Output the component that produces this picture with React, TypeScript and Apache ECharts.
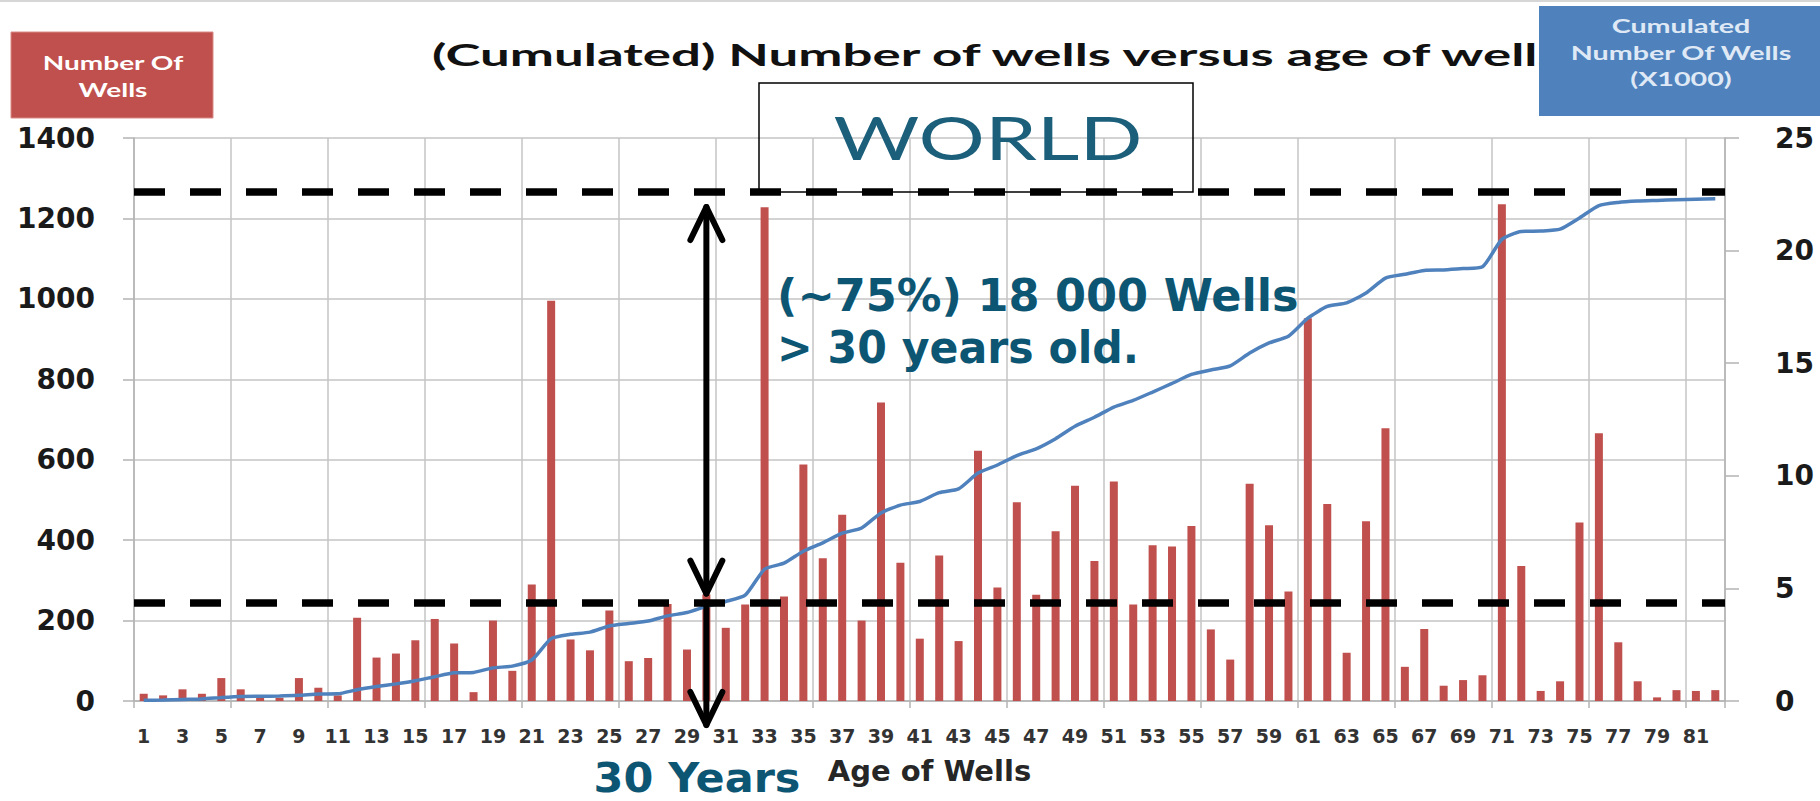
import React, { useEffect, useRef } from "react";
import * as echarts from "echarts";

// ---------- data ----------
const ageCategories = [
  "1","2","3","4","5","6","7","8","9","10",
  "11","12","13","14","15","16","17","18","19","20",
  "21","22","23","24","25","26","27","28","29","30",
  "31","32","33","34","35","36","37","38","39","40",
  "41","42","43","44","45","46","47","48","49","50",
  "51","52","53","54","55","56","57","58","59","60",
  "61","62","63","64","65","66","67","68","69","70",
  "71","72","73","74","75","76","77","78","79","80",
  "81","82",
];

// Number of wells per age (left axis)
const wellCounts = [
  18, 14, 29, 18, 57, 29, 8, 8, 57, 33,
  14, 207, 108, 118, 151, 204, 143, 22, 200, 75,
  290, 995, 153, 126, 225, 99, 107, 241, 128, 265,
  182, 240, 1228, 260, 588, 355, 463, 200, 742, 344,
  155, 362, 149, 622, 282, 494, 264, 422, 535, 348,
  546, 240, 387, 384, 435, 178, 103, 540, 437, 272,
  952, 490, 120, 447, 678, 85, 179, 38, 52, 64,
  1235, 336, 25, 49, 444, 666, 146, 49, 9, 27,
  25, 27,
];

// Cumulated number of wells (x1000, right axis)
const cumulatedWells = [
  0.03, 0.04, 0.07, 0.09, 0.15, 0.2, 0.21, 0.22, 0.25, 0.31,
  0.32, 0.5, 0.64, 0.76, 0.9, 1.08, 1.25, 1.27, 1.47, 1.55,
  1.82, 2.77, 2.96, 3.06, 3.33, 3.44, 3.55, 3.78, 3.93, 4.2,
  4.42, 4.7, 5.85, 6.12, 6.65, 7.02, 7.45, 7.68, 8.35, 8.7,
  8.86, 9.25, 9.42, 10.12, 10.48, 10.9, 11.2, 11.65, 12.2, 12.6,
  13.05, 13.35, 13.72, 14.1, 14.5, 14.7, 14.88, 15.45, 15.9, 16.2,
  17.0, 17.52, 17.68, 18.12, 18.78, 18.95, 19.12, 19.14, 19.2, 19.28,
  20.5, 20.85, 20.87, 20.95, 21.45, 22.0, 22.14, 22.2, 22.23, 22.26,
  22.28, 22.3,
];

const leftAxisMax = 1400;
const leftAxisStep = 200;
const rightAxisMax = 25;
const rightAxisStep = 5;

// dashed reference levels (cumulated, x1000): total and at 30 years
const referenceLevels = [22.6, 4.37];
const arrowAgeIndex = 29; // age 30

const W = 1820;
const H = 801;

export default function App() {
  const ref = useRef<HTMLDivElement>(null);

  useEffect(() => {
    document.body.style.margin = "0";
    document.body.style.overflow = "hidden";
    const el = ref.current!;
    const chart = echarts.init(el, null, { renderer: "svg", width: W, height: H });

    const canvas = document.createElement("canvas");
    const ctx = canvas.getContext("2d")!;
    const fit = (text: string, font: string, target: number) => {
      ctx.font = font;
      const w = ctx.measureText(text).width;
      return w > 0 ? target / w : 1;
    };

    const axisGrey = "#b3b3b3";
    const gridGrey = "#c4c4c4";

    const option: any = {
      animation: false,
      backgroundColor: "#ffffff",
      grid: { left: 134, right: 95, top: 138, bottom: 100, containLabel: false },
      xAxis: {
        type: "category",
        data: ageCategories,
        boundaryGap: true,
        name: "Age of Wells",
        nameLocation: "middle",
        nameGap: 55,
        nameTextStyle: {
          fontFamily: "DejaVu Sans",
          fontWeight: "bold",
          fontSize: 29,
          color: "#262626",
        },
        axisLine: { show: true, lineStyle: { color: axisGrey, width: 1.5 } },
        axisTick: { show: true, interval: 4, length: 7, lineStyle: { color: axisGrey, width: 1.5 } },
        axisLabel: {
          interval: 1,
          margin: 25,
          fontFamily: "DejaVu Sans",
          fontWeight: "bold",
          fontSize: 19,
          color: "#333333",
        },
        splitLine: { show: true, interval: 4, lineStyle: { color: gridGrey, width: 1.5 } },
      },
      yAxis: [
        {
          type: "value",
          position: "left",
          min: 0,
          max: leftAxisMax,
          interval: leftAxisStep,
          axisLine: { show: true, lineStyle: { color: axisGrey, width: 1.5 } },
          axisTick: { show: true, length: 11, lineStyle: { color: axisGrey, width: 1.5 } },
          axisLabel: {
            margin: 39,
            formatter: (v: number) => String(v),
            fontFamily: "DejaVu Sans",
            fontWeight: "bold",
            fontSize: 28,
            color: "#1a1a1a",
          },
          splitLine: { show: true, lineStyle: { color: gridGrey, width: 1.5 } },
        },
        {
          type: "value",
          position: "right",
          min: 0,
          max: rightAxisMax,
          interval: rightAxisStep,
          axisLine: { show: true, lineStyle: { color: axisGrey, width: 1.5 } },
          axisTick: { show: true, length: 14, lineStyle: { color: axisGrey, width: 1.5 } },
          axisLabel: {
            margin: 50,
            formatter: (v: number) => String(v),
            fontFamily: "DejaVu Sans",
            fontWeight: "bold",
            fontSize: 28,
            color: "#1a1a1a",
          },
          splitLine: { show: false },
        },
      ],
      series: [
        {
          name: "Number Of Wells",
          type: "bar",
          yAxisIndex: 0,
          data: wellCounts,
          barWidth: 8,
          itemStyle: { color: "#c0504d" },
          z: 2,
        },
        {
          name: "Cumulated Number Of Wells (X1000)",
          type: "line",
          yAxisIndex: 1,
          data: cumulatedWells,
          smooth: 0.2,
          symbol: "none",
          lineStyle: { color: "#4f81bd", width: 3.5 },
          z: 3,
          markLine: {
            silent: true,
            symbol: ["none", "none"],
            label: { show: false },
            lineStyle: { color: "#000000", width: 7.5, type: [31, 25] },
            emphasis: { disabled: true },
            data: referenceLevels.map((v) => ({ yAxis: v })),
          },
        },
      ],
    };

    chart.setOption(option);

    // ---------- annotations ----------
    const pTop = chart.convertToPixel({ seriesIndex: 1 }, [arrowAgeIndex, referenceLevels[0]]) as number[];
    const pBot = chart.convertToPixel({ seriesIndex: 1 }, [arrowAgeIndex, referenceLevels[1]]) as number[];
    const pZero = chart.convertToPixel({ seriesIndex: 1 }, [arrowAgeIndex, 0]) as number[];
    const ax = pTop[0];
    const upTop = pTop[1] + 15;
    const upBottom = pBot[1] - 9;
    const lowTop = pBot[1];
    const lowTip = pZero[1] + 24;
    const headL = 33;
    const headW = 16;
    const arrowStyle = {
      stroke: "#000000",
      lineWidth: 6,
      lineCap: "round",
      lineJoin: "round",
      fill: null,
    };

    const titleFont = "bold 31px Lato";
    const titleScale = fit("(Cumulated) Number of wells versus age of well", titleFont, 1112);
    const redFont = "bold 18px Lato";
    const redScale = fit("Number Of", redFont, 141);
    const blueFont = "bold 19px Lato";
    const blueScale = fit("Number Of Wells", blueFont, 222);
    const worldFont = "60px Lato";
    const worldScale = fit("WORLD", worldFont, 309);
    const noteFont = "bold 44px 'DejaVu Sans'";
    const note1 = "(~75%) 18 000 Wells";
    const note2 = "> 30 years old.";
    const note1Scale = fit(note1, noteFont, 522);
    const note2Scale = fit(note2, noteFont, 362);
    const yearsFont = "bold 40px 'DejaVu Sans'";
    const yearsScale = fit("30 Years", yearsFont, 207);

    const teal = "#0d5673";

    const graphic: any[] = [
      {
        type: "line",
        z: 100,
        shape: { x1: 0, y1: 1, x2: W, y2: 1 },
        style: { stroke: "#d6d6d6", lineWidth: 2 },
      },
      // title
      {
        type: "text",
        z: 100,
        x: 432,
        y: 54,
        scaleX: titleScale,
        style: {
          text: "(Cumulated) Number of wells versus age of wells",
          fontFamily: "Lato",
          fontWeight: "bold",
          fontSize: 31,
          fill: "#111111",
          align: "left",
          verticalAlign: "middle",
        },
      },
      // red legend box
      {
        type: "rect",
        z: 101,
        shape: { x: 11, y: 32, width: 202, height: 86 },
        style: { fill: "#c0504d", stroke: "#d98a88", lineWidth: 1 },
      },
      {
        type: "text",
        z: 102,
        x: 113,
        y: 63,
        scaleX: redScale,
        style: { text: "Number Of", fontFamily: "Lato", fontWeight: "bold", fontSize: 18, fill: "#ffffff", align: "center", verticalAlign: "middle" },
      },
      {
        type: "text",
        z: 102,
        x: 113,
        y: 90,
        scaleX: redScale,
        style: { text: "Wells", fontFamily: "Lato", fontWeight: "bold", fontSize: 18, fill: "#ffffff", align: "center", verticalAlign: "middle" },
      },
      // blue legend box (covers end of title)
      {
        type: "rect",
        z: 101,
        shape: { x: 1539, y: 6, width: 281, height: 110 },
        style: { fill: "#4f81bd" },
      },
      {
        type: "text",
        z: 102,
        x: 1681,
        y: 26,
        scaleX: blueScale,
        style: { text: "Cumulated", fontFamily: "Lato", fontWeight: "bold", fontSize: 19, fill: "#dfe9f5", align: "center", verticalAlign: "middle" },
      },
      {
        type: "text",
        z: 102,
        x: 1681,
        y: 53,
        scaleX: blueScale,
        style: { text: "Number Of Wells", fontFamily: "Lato", fontWeight: "bold", fontSize: 19, fill: "#dfe9f5", align: "center", verticalAlign: "middle" },
      },
      {
        type: "text",
        z: 102,
        x: 1681,
        y: 79,
        scaleX: blueScale,
        style: { text: "(X1000)", fontFamily: "Lato", fontWeight: "bold", fontSize: 19, fill: "#dfe9f5", align: "center", verticalAlign: "middle" },
      },
      // WORLD box
      {
        type: "rect",
        z: 100,
        shape: { x: 759, y: 83, width: 434, height: pTop[1] - 83 },
        style: { fill: null, stroke: "#000000", lineWidth: 1.5 },
      },
      {
        type: "text",
        z: 100,
        x: 988,
        y: 137,
        scaleX: worldScale,
        style: { text: "WORLD", fontFamily: "Lato", fontSize: 60, fill: "#1b5f7b", align: "center", verticalAlign: "middle" },
      },
      // annotation text
      {
        type: "text",
        z: 100,
        x: 777,
        y: 296,
        scaleX: note1Scale,
        style: { text: note1, fontFamily: "DejaVu Sans", fontWeight: "bold", fontSize: 44, fill: teal, align: "left", verticalAlign: "middle" },
      },
      {
        type: "text",
        z: 100,
        x: 777,
        y: 348,
        scaleX: note2Scale,
        style: { text: note2, fontFamily: "DejaVu Sans", fontWeight: "bold", fontSize: 44, fill: teal, align: "left", verticalAlign: "middle" },
      },
      {
        type: "text",
        z: 100,
        x: 697,
        y: 778,
        scaleX: yearsScale,
        style: { text: "30 Years", fontFamily: "DejaVu Sans", fontWeight: "bold", fontSize: 40, fill: teal, align: "center", verticalAlign: "middle" },
      },
      // double arrow between the two levels
      {
        type: "line",
        z: 110,
        shape: { x1: ax, y1: upTop, x2: ax, y2: upBottom },
        style: arrowStyle,
      },
      {
        type: "polyline",
        z: 110,
        shape: { points: [[ax - headW, upTop + headL], [ax, upTop], [ax + headW, upTop + headL]] },
        style: arrowStyle,
      },
      {
        type: "polyline",
        z: 110,
        shape: { points: [[ax - headW, upBottom - headL], [ax, upBottom], [ax + headW, upBottom - headL]] },
        style: arrowStyle,
      },
      // arrow down to age 30
      {
        type: "line",
        z: 110,
        shape: { x1: ax, y1: lowTop, x2: ax, y2: lowTip },
        style: arrowStyle,
      },
      {
        type: "polyline",
        z: 110,
        shape: { points: [[ax - headW, lowTip - headL], [ax, lowTip], [ax + headW, lowTip - headL]] },
        style: arrowStyle,
      },
    ];

    chart.setOption({ graphic });

    return () => {
      chart.dispose();
    };
  }, []);

  return (
    <div
      ref={ref}
      style={{ position: "absolute", left: 0, top: 0, width: W, height: H, background: "#ffffff" }}
    />
  );
}
